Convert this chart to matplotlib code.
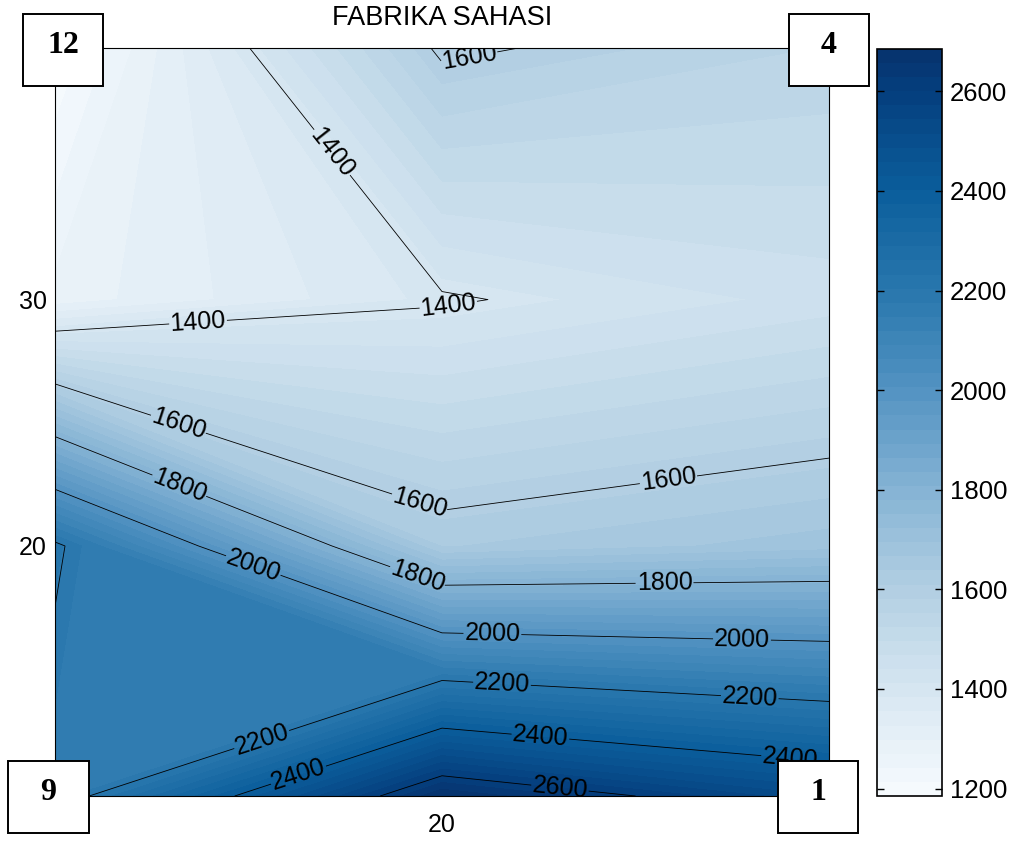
import numpy as np
import matplotlib
matplotlib.use("Agg")
import matplotlib.pyplot as plt
from matplotlib.patches import Rectangle
from matplotlib.text import Text
from matplotlib.offsetbox import DrawingArea, AnnotationBbox
from matplotlib.colors import LinearSegmentedColormap

# ---- data (3 x 4 grid of stations) ----
x_coords = [0, 20, 40]
y_coords = [9.85, 20, 30, 40.2]
z_row1 = [2153, 2685, 2515]   # stations 9, 5, 1
z_row2 = [2215, 1635, 1682]   # stations 10, 6, 2
z_row3 = [1280, 1393, 1452]   # stations 11, 7, 3
z_row4 = [1185, 1612, 1550]   # stations 12, 8, 4
line_levels = [1400, 1600, 1800, 2000, 2200, 2400, 2600]
cbar_ticks = [1200, 1400, 1600, 1800, 2000, 2200, 2400, 2600]
x_ticks = [20]
y_ticks = [20, 30]
station_names = ['12', '4', '9', '1']
station_x = [0, 40, 0, 40]
station_y = [40.2, 40.2, 9.85, 9.85]
title_text = 'FABRIKA SAHASI'

# ---- layout / style ----
plt.rcParams['font.family'] = ['Liberation Sans', 'DejaVu Sans']
W, H = 1021, 841
box_offsets_pt = [(5.8, -1.0), (0.0, -1.0), (-4.7, -0.7), (-7.9, -0.7)]
label_pos = [
    (21.4, 39.8), (14.2, 35.9), (20.3, 29.9), (7.4, 29.0),
    (6.4, 25.0), (18.9, 21.9), (31.7, 22.7),
    (6.4, 22.4), (18.7, 18.7), (31.5, 18.5),
    (10.2, 19.1), (22.6, 16.3), (35.5, 16.1),
    (10.7, 12.1), (23.1, 14.4), (35.9, 13.8),
    (12.5, 10.9), (25.1, 12.4), (38.0, 11.5),
    (26.1, 10.2),
]

X, Y = np.meshgrid(x_coords, y_coords)
Z = np.array([z_row1, z_row2, z_row3, z_row4], dtype=float)
zmin, zmax = Z.min(), Z.max()

# colormap anchored at values
cm_vals = [zmin, 1400, 1600, 1800, 2000, 2170, 2400, 2600, zmax]
cm_cols = ['#f7fbfe', '#d6e6f1', '#b2cfe3', '#85b3d4', '#5393c2',
           '#2e7bb0', '#0b5e9c', '#053f7e', '#06326d']
cmap = LinearSegmentedColormap.from_list(
    'ref_blues', [((v - zmin) / (zmax - zmin), c) for v, c in zip(cm_vals, cm_cols)])

fig = plt.figure(figsize=(W / 100, H / 100), dpi=100)
ax = fig.add_axes([55 / W, 1 - 796 / H, (829 - 55) / W, (796 - 48.3) / H])

fill_levels = np.linspace(zmin, zmax, 54)
cf = ax.contourf(X, Y, Z, levels=fill_levels, cmap=cmap)
cs = ax.contour(X, Y, Z, levels=line_levels, colors='k', linewidths=0.6)
ax.clabel(cs, fmt='%d', fontsize=18, inline=True, inline_spacing=1,
          manual=label_pos)

ax.set_xlim(min(x_coords), max(x_coords))
ax.set_ylim(min(y_coords), max(y_coords))
ax.set_xticks(x_ticks)
ax.set_yticks(y_ticks)
ax.tick_params(length=0, labelsize=18)
ax.tick_params(axis='y', pad=6)
ax.tick_params(axis='x', pad=12)
for s in ax.spines.values():
    s.set_linewidth(0.8)
ax.set_title(title_text, fontsize=19.5, pad=17)

# station boxes
bw, bh = 58, 52
for name, sx, sy, off in zip(station_names, station_x, station_y, box_offsets_pt):
    da = DrawingArea(bw, bh, 0, 0)
    da.add_artist(Rectangle((0, 0), bw, bh, facecolor='white',
                            edgecolor='black', linewidth=1.4))
    da.add_artist(Text(bw / 2, bh / 2 + 3, name, ha='center', va='center',
                       fontsize=23, fontweight='bold',
                       family='Liberation Serif'))
    ab = AnnotationBbox(da, (sx, sy), xybox=off, xycoords='data',
                        boxcoords='offset points', frameon=False, pad=0,
                        box_alignment=(0.5, 0.5), annotation_clip=False)
    ab.set_zorder(10)
    ab.set_clip_on(False)
    ax.add_artist(ab)

cax = fig.add_axes([876.7 / W, 1 - 796 / H, 65 / W, (796 - 49) / H])
cb = fig.colorbar(cf, cax=cax, ticks=cbar_ticks)
cb.outline.set_linewidth(1.2)
cax.tick_params(direction='in', left=True, right=True, labelleft=False,
                labelright=True, length=5, width=1, labelsize=18.5, pad=6)
cax.set_yticklabels([str(t) for t in cbar_ticks])

fig.savefig('out.png', dpi=100)
